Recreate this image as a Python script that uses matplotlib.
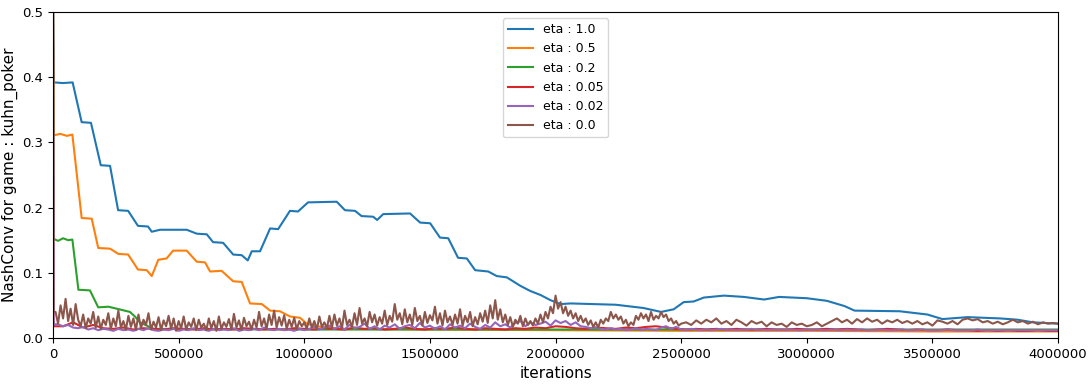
import numpy as np
import matplotlib
matplotlib.use("Agg")
import matplotlib.pyplot as plt

# ---------------- data ----------------
start_value = 0.52  # every run starts above the top of the axis

# eta 1.0 : (iteration, NashConv) knots
eta_10_x = [0, 3000, 40000, 78000, 114000, 151000, 190000, 227000, 259000, 299000,
            338000, 378000, 393000, 426000, 532000, 572000, 612000, 637000, 677000,
            717000, 751000, 775000, 791000, 824000, 864000, 896000, 943000, 975000,
            1015000, 1129000, 1162000, 1202000, 1228000, 1274000, 1290000, 1314000,
            1421000, 1461000, 1501000, 1540000, 1573000, 1612000, 1647000, 1680000,
            1732000, 1766000, 1806000, 1860000, 1900000, 1940000, 1980000, 2020000,
            2060000, 2240000, 2350000, 2420000, 2470000, 2510000, 2550000, 2590000,
            2670000, 2750000, 2830000, 2890000, 3000000, 3080000, 3150000, 3190000,
            3370000, 3480000, 3540000, 3640000, 3770000, 3840000, 3900000, 4000000]
eta_10_y = [start_value, 0.392, 0.391, 0.392, 0.331, 0.330, 0.265, 0.264, 0.196, 0.195,
            0.172, 0.171, 0.163, 0.166, 0.166, 0.160, 0.159, 0.147, 0.146,
            0.128, 0.127, 0.119, 0.133, 0.133, 0.168, 0.167, 0.195, 0.194,
            0.208, 0.209, 0.196, 0.195, 0.187, 0.186, 0.181, 0.190,
            0.191, 0.177, 0.176, 0.154, 0.153, 0.123, 0.122, 0.104,
            0.102, 0.095, 0.093, 0.080, 0.072, 0.066, 0.058, 0.052,
            0.053, 0.051, 0.046, 0.040, 0.044, 0.055, 0.056, 0.062,
            0.065, 0.063, 0.059, 0.063, 0.061, 0.057, 0.049, 0.042,
            0.041, 0.036, 0.029, 0.032, 0.030, 0.028, 0.024, 0.022]

# eta 0.5
eta_05_x = [0, 3000, 30000, 55000, 77000, 114000, 154000, 180000, 227000, 260000,
            299000, 338000, 373000, 393000, 419000, 452000, 478000, 532000, 572000,
            605000, 625000, 671000, 717000, 751000, 784000, 831000, 864000, 903000,
            943000, 983000, 1010000, 1050000, 1150000, 1500000, 2000000, 2500000,
            3000000, 3500000, 4000000]
eta_05_y = [start_value, 0.311, 0.313, 0.310, 0.312, 0.184, 0.183, 0.138, 0.137, 0.129,
            0.128, 0.105, 0.104, 0.095, 0.120, 0.122, 0.134, 0.134, 0.117,
            0.116, 0.102, 0.103, 0.087, 0.086, 0.053, 0.052, 0.042, 0.041,
            0.033, 0.031, 0.022, 0.018, 0.014, 0.013, 0.012, 0.011,
            0.011, 0.010, 0.010]

# eta 0.2
eta_02_x = [0, 3000, 20000, 40000, 60000, 77000, 101000, 147000, 180000, 220000,
            253000, 306000, 326000, 346000, 400000, 1000000, 2000000, 3000000, 4000000]
eta_02_y = [start_value, 0.152, 0.149, 0.153, 0.150, 0.151, 0.074, 0.073, 0.047, 0.048,
            0.045, 0.040, 0.033, 0.024, 0.014, 0.013, 0.013, 0.013, 0.013]

# eta 0.05, one value every 40000 iterations
eta_005_y = [0.018, 0.024, 0.016, 0.020, 0.015, 0.014, 0.016, 0.013, 0.015, 0.014,
             0.013, 0.015, 0.014, 0.013, 0.015, 0.013, 0.014, 0.013, 0.015, 0.014,
             0.013, 0.014, 0.013, 0.015, 0.014,
             0.013, 0.015, 0.014, 0.013, 0.016, 0.014, 0.015, 0.013, 0.014, 0.016,
             0.014, 0.013, 0.015, 0.014, 0.016, 0.014, 0.013, 0.015, 0.014, 0.013,
             0.015, 0.014, 0.016, 0.015, 0.018,
             0.017, 0.015, 0.014, 0.016, 0.015, 0.014, 0.016, 0.015, 0.017, 0.018,
             0.016, 0.014, 0.013, 0.014, 0.013, 0.014, 0.013, 0.014, 0.013, 0.013,
             0.014, 0.013, 0.013, 0.014, 0.013,
             0.013, 0.014, 0.013, 0.014, 0.013, 0.012, 0.013, 0.014, 0.013, 0.012,
             0.013, 0.012, 0.012, 0.013, 0.012, 0.012, 0.011, 0.012, 0.011, 0.012,
             0.011, 0.011, 0.012, 0.011, 0.011]

# eta 0.02, one value every 20000 iterations
eta_002_y = [0.021, 0.018, 0.020, 0.016, 0.015, 0.017, 0.013, 0.015, 0.012, 0.014,
             0.013, 0.011, 0.014, 0.012, 0.013, 0.011, 0.014, 0.012, 0.015, 0.012,
             0.011, 0.013, 0.012, 0.014, 0.011, 0.013, 0.012, 0.015, 0.012, 0.013,
             0.011, 0.014, 0.012, 0.013, 0.012, 0.015, 0.011, 0.013, 0.012, 0.014,
             0.012, 0.016, 0.013, 0.012, 0.014, 0.012, 0.013, 0.011, 0.014, 0.012,
             0.014, 0.017, 0.013, 0.016, 0.019, 0.014, 0.018, 0.013, 0.020, 0.015,
             0.017, 0.022, 0.014, 0.018, 0.013, 0.019, 0.016, 0.021, 0.014, 0.018,
             0.020, 0.015, 0.023, 0.016, 0.019, 0.014, 0.018, 0.013, 0.021, 0.016,
             0.019, 0.015, 0.022, 0.017, 0.014, 0.020, 0.016, 0.024, 0.018, 0.021,
             0.016, 0.023, 0.026, 0.018, 0.024, 0.020, 0.022, 0.025, 0.019, 0.027,
             0.023, 0.026, 0.020, 0.024, 0.018, 0.017, 0.015, 0.016, 0.014, 0.013,
             0.015, 0.013, 0.014, 0.012, 0.013, 0.015, 0.012, 0.014, 0.013, 0.012,
             0.016, 0.018, 0.014, 0.017, 0.013, 0.012, 0.014, 0.013, 0.012, 0.013,
             0.012, 0.013, 0.014, 0.012, 0.013, 0.012, 0.013, 0.012, 0.014, 0.012,
             0.013, 0.012, 0.013, 0.012, 0.013, 0.012, 0.013, 0.012, 0.012, 0.013,
             0.012, 0.013, 0.012, 0.012, 0.013, 0.012, 0.012, 0.013, 0.012, 0.012,
             0.013, 0.012, 0.012, 0.012, 0.013, 0.012, 0.012, 0.012, 0.013, 0.012,
             0.012, 0.012, 0.013, 0.012, 0.012, 0.012, 0.012, 0.013, 0.012, 0.012,
             0.012, 0.012, 0.012, 0.013, 0.012, 0.012, 0.012, 0.012, 0.012, 0.012,
             0.012, 0.012, 0.012, 0.012, 0.012, 0.012, 0.012, 0.012, 0.012, 0.012]

# eta 0.0, one value every 10000 iterations up to 2.5M ...
eta_00_fine = [0.040, 0.022, 0.050, 0.030, 0.060, 0.026, 0.045, 0.020, 0.052, 0.028,
               0.018, 0.036, 0.015, 0.030, 0.022, 0.040, 0.016, 0.033, 0.014, 0.028,
               0.020, 0.038, 0.014, 0.030, 0.018, 0.042, 0.016, 0.026, 0.013, 0.034,
               0.017, 0.030, 0.012, 0.036, 0.015, 0.028, 0.020, 0.038, 0.013, 0.025,
               0.016, 0.032, 0.012, 0.027, 0.018, 0.034, 0.014, 0.030, 0.011, 0.026,
               0.015, 0.033, 0.013, 0.024, 0.017, 0.030, 0.012, 0.028, 0.016, 0.022,
               0.012, 0.030, 0.015, 0.026, 0.011, 0.033, 0.014, 0.024, 0.017, 0.029,
               0.013, 0.037, 0.016, 0.027, 0.012, 0.031, 0.018, 0.025, 0.013, 0.028,
               0.016, 0.040, 0.018, 0.030, 0.014, 0.036, 0.020, 0.042, 0.016, 0.032,
               0.019, 0.035, 0.014, 0.028, 0.017, 0.031, 0.013, 0.026, 0.018, 0.024,
               0.014, 0.030, 0.016, 0.026, 0.013, 0.033, 0.017, 0.024, 0.015, 0.034,
               0.016, 0.036, 0.019, 0.030, 0.015, 0.042, 0.020, 0.028, 0.017, 0.038,
               0.020, 0.046, 0.022, 0.030, 0.018, 0.040, 0.024, 0.036, 0.019, 0.032,
               0.022, 0.042, 0.020, 0.034, 0.025, 0.052, 0.028, 0.038, 0.021, 0.044,
               0.024, 0.036, 0.020, 0.046, 0.026, 0.034, 0.019, 0.040, 0.023, 0.035,
               0.027, 0.048, 0.022, 0.038, 0.019, 0.042, 0.024, 0.033, 0.020, 0.036,
               0.022, 0.044, 0.019, 0.034, 0.024, 0.040, 0.018, 0.032, 0.021, 0.038,
               0.025, 0.042, 0.023, 0.050, 0.030, 0.058, 0.028, 0.044, 0.024, 0.036,
               0.020, 0.032, 0.017, 0.028, 0.022, 0.034, 0.018, 0.030, 0.020, 0.026,
               0.019, 0.030, 0.022, 0.036, 0.024, 0.040, 0.030, 0.048, 0.038, 0.065,
               0.045, 0.055, 0.038, 0.048, 0.034, 0.042, 0.030, 0.038, 0.026, 0.034,
               0.024, 0.030, 0.020, 0.027, 0.017, 0.024, 0.016, 0.028, 0.022, 0.030,
               0.026, 0.040, 0.030, 0.036, 0.028, 0.033, 0.022, 0.028, 0.018, 0.024,
               0.020, 0.034, 0.028, 0.038, 0.030, 0.036, 0.026, 0.040, 0.028, 0.034,
               0.030, 0.040, 0.032, 0.036, 0.026, 0.030, 0.022, 0.026, 0.019, 0.022]
# ... then every 20000 iterations to 4M (smoother part)
eta_00_coarse = [0.024, 0.020, 0.027, 0.022, 0.028, 0.024, 0.030, 0.022, 0.026, 0.020,
                 0.028, 0.024, 0.019, 0.026, 0.022, 0.025, 0.018, 0.024, 0.020, 0.022,
                 0.017, 0.024, 0.020, 0.022, 0.018, 0.020, 0.024, 0.018, 0.022, 0.026,
                 0.030, 0.024, 0.028, 0.022, 0.029, 0.024, 0.030, 0.025, 0.028, 0.022,
                 0.027, 0.024, 0.028, 0.023, 0.026, 0.022, 0.026, 0.021, 0.024, 0.019,
                 0.027, 0.025, 0.022, 0.026, 0.021, 0.028, 0.030, 0.027, 0.029, 0.024,
                 0.026, 0.022, 0.025, 0.021, 0.024, 0.028, 0.024, 0.026, 0.022, 0.025,
                 0.021, 0.024, 0.022, 0.023, 0.022]

labels = ["eta : 1.0", "eta : 0.5", "eta : 0.2", "eta : 0.05", "eta : 0.02", "eta : 0.0"]


def with_start(step, values, offset=0):
    """x / y arrays with the starting point at iteration 0 and a near-vertical drop"""
    x = np.concatenate([[0, 2000], offset + step * np.arange(1, len(values) + 1)])
    y = np.concatenate([[start_value, values[0]], values])
    return x, y


x_005, y_005 = with_start(40000, eta_005_y)
x_002, y_002 = with_start(20000, eta_002_y)
x_00, y_00 = with_start(10000, eta_00_fine)
x_00 = np.concatenate([x_00, 2500000 + 20000 * np.arange(1, len(eta_00_coarse) + 1)])
y_00 = np.concatenate([y_00, eta_00_coarse])

# ---------------- plot ----------------
fig = plt.figure(figsize=(10.91, 3.84), dpi=100)
ax = fig.add_axes([0.0486, 0.1198, 0.9212, 0.849])

ax.plot(eta_10_x, eta_10_y, label=labels[0])
ax.plot(eta_05_x, eta_05_y, label=labels[1])
ax.plot(eta_02_x, eta_02_y, label=labels[2])
ax.plot(x_005, y_005, label=labels[3])
ax.plot(x_002, y_002, label=labels[4])
ax.plot(x_00, y_00, label=labels[5])

ax.set_xlim(0, 4000000)
ax.set_ylim(0.0, 0.5)
ax.set_xticks(np.arange(0, 4000001, 500000))
ax.set_xticklabels([str(v) for v in range(0, 4000001, 500000)])
ax.tick_params(labelsize=9.5)
ax.set_xlabel("iterations", fontsize=11)
ax.set_ylabel("NashConv for game : kuhn_poker", fontsize=11, labelpad=3)
ax.legend(loc="upper center", fontsize=9)

fig.savefig("out.png", dpi=100)
